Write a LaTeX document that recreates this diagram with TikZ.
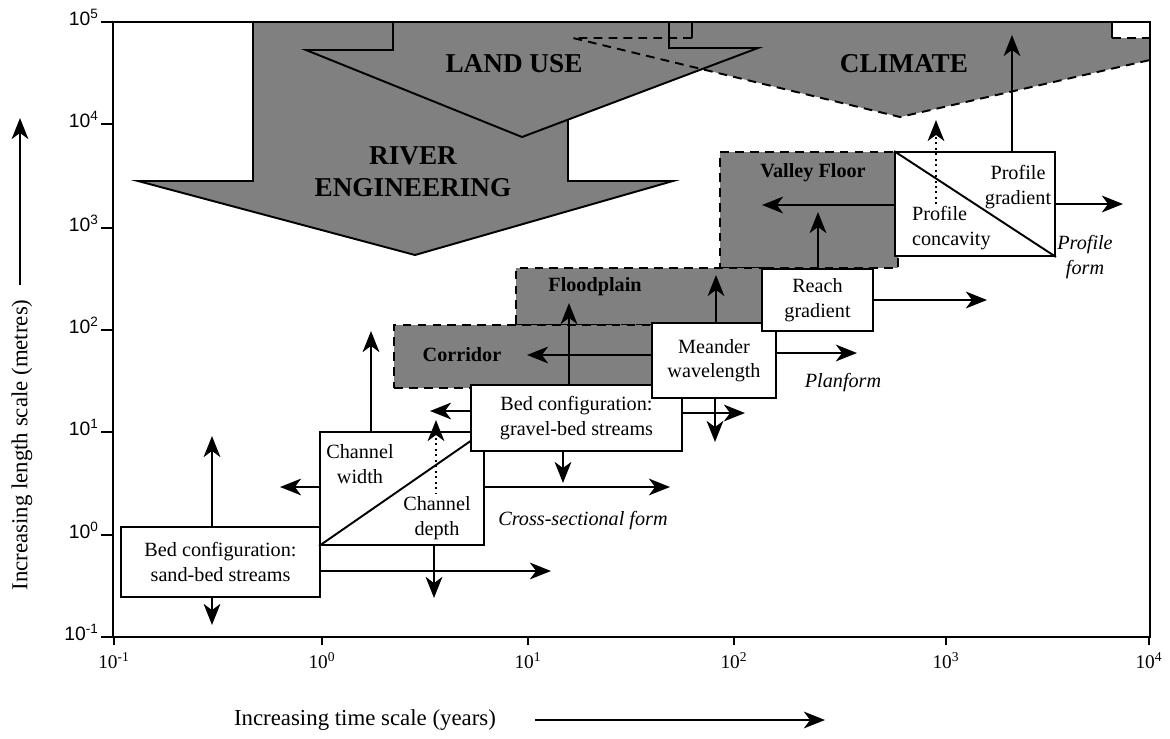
\documentclass[tikz,border=0pt]{standalone}
\usepackage{fontspec}
\setmainfont{Liberation Serif}
\newfontfamily\ticksans{Liberation Sans}
\usetikzlibrary{arrows.meta,positioning}

\definecolor{zonegray}{RGB}{128,128,128}

\tikzset{
	outline/.style={line width=1.1pt},
	dashline/.style={line width=1.1pt, dash pattern=on 5pt off 3.5pt},
	zone/.style={draw, fill=zonegray, dashline, inner sep=0pt},
	box/.style={draw, fill=white, line width=1.1pt, inner sep=0pt, align=center, font=\fontsize{11.5}{14}\selectfont},
	txt/.style={inner sep=1pt, align=center, font=\fontsize{11.5}{14}\selectfont},
	zonelabel/.style={inner sep=1pt, font=\fontsize{11.5}{14}\selectfont\bfseries},
	note/.style={inner sep=1pt, align=center, font=\fontsize{11.5}{14}\selectfont\itshape},
	biglabel/.style={inner sep=1pt, align=center, font=\fontsize{15.5}{18}\selectfont\bfseries},
	arr/.style={line width=1.1pt, -{Stealth[length=12pt,width=9.5pt,inset=3.5pt]}},
	dotarr/.style={arr, dotted},
	xtick/.style={inner sep=1pt, font=\fontsize{11}{13}\selectfont},
	ytick/.style={inner sep=1pt, anchor=east, font=\ticksans\fontsize{11}{13}\selectfont},
	axtitle/.style={inner sep=1pt, font=\fontsize{13}{15}\selectfont}
}

\begin{document}
\begin{tikzpicture}[x=0.02cm,y=-0.02cm]
	\useasboundingbox (0,0) rectangle (1170,738);

	% climate, river engineering and land use arrows
	\fill[zonegray] (573,38) -- (669,38) -- (669,22) -- (1112,22) -- (1112,38) -- (1150,38) -- (1150,60) -- (900,117) -- cycle;
	\draw[outline, fill=zonegray] (253,22) -- (253,181) -- (138,181) -- (415,255) -- (673,181) -- (568,181) -- (568,22);
	\draw[outline, fill=zonegray] (393,22) -- (393,50) -- (306,50) -- (522,137) -- (758,48) -- (669,48) -- (669,22);
	\draw[dashline] (692,38) -- (573,38) -- (900,117) -- (1150,60);
	\draw[dashline] (1112,38) -- (1150,38);
	\draw[outline] (692,22) -- (692,38) (1112,22) -- (1112,38);

	\node[biglabel] (landuse) at (514,64) {LAND USE};
	\node[biglabel] (climate) at (904,64) {CLIMATE};
	\node[biglabel] (rivereng) at (413,172) {RIVER\\ENGINEERING};

	% frame and ticks
	\draw[outline] (113,22) rectangle (1150,637);
	\foreach \x/\e in {114/-1,322/0,528/1,734/2,946/3,1149/4}{
		\draw[outline] (\x,637) -- (\x,645);
		\node[xtick] (xt\e) at (\x,661) {10\textsuperscript{\e}};
	}
	\foreach \y/\e in {22/5,124/4,228/3,330/2,432/1,535/0,637/-1}{
		\draw[outline] (101,\y) -- (113,\y);
		\node[ytick] (yt\e) at (101,\y-5) {10\textsuperscript{\e}};
	}

	\node[axtitle] (xtitle) at (365,720) {Increasing time scale (years)};
	\coordinate (xfrom) at (535,720);
	\coordinate (xto) at (825,720);
	\draw[arr] (xfrom) -- (xto);

	\node[axtitle, rotate=90] (ytitle) at (22,445) {Increasing length scale (metres)};
	\coordinate (yfrom) at (20,285);
	\coordinate (yto) at (20,118);
	\draw[arr] (yfrom) -- (yto);

	% dashed zones
	\node[zone, minimum width=3.56cm, minimum height=2.32cm] (valley) at (809,210) {};
	\node[zone, minimum width=5.08cm, minimum height=1.14cm] (flood) at (643,296.5) {};
	\node[zone, minimum width=5.22cm, minimum height=1.26cm] (corridor) at (524.5,356.5) {};
	\node[zonelabel] (valleytxt) at (813,173) {Valley Floor};
	\node[zonelabel] (floodtxt) at (595,287) {Floodplain};
	\node[zonelabel] (corridortxt) at (462,355) {Corridor};

	% boxes
	\node[box, minimum width=3.98cm, minimum height=1.4cm] (sand) at (220.5,562) {Bed configuration:\\sand-bed streams};
	\node[box, minimum width=3.28cm, minimum height=2.26cm] (chan) at (402,488.5) {};
	\draw[outline] (chan.south west) -- (chan.north east);
	\node[box, minimum width=4.22cm, minimum height=1.32cm] (gravel) at (576.5,418) {Bed configuration:\\gravel-bed streams};
	\node[box, minimum width=2.48cm, minimum height=1.5cm] (meander) at (714,360.5) {Meander\\wavelength};
	\node[box, minimum width=2.22cm, minimum height=1.24cm] (reach) at (817.5,300) {Reach\\gradient};
	\node[box, minimum width=3.2cm, minimum height=2.08cm] (profile) at (975,204) {};
	\draw[outline] (profile.north west) -- (profile.south east);

	\node[txt] (width) at (360,464) {Channel\\width};
	\node[txt] (depth) at (437,518) {Channel\\depth};
	\node[txt] (grad) at (1018,187) {Profile\\gradient};
	\node[txt, anchor=west, align=left] (conc) at (910,228) {Profile\\concavity};

	\node[note] (crossform) at (583,521) {Cross-sectional form};
	\node[note] (planform) at (843,383) {Planform};
	\node[note] (profform) at (1085,257) {Profile\\form};

	% arrow ends
	\coordinate (sandup) at (212,436);
	\coordinate (sanddown) at (212,625);
	\coordinate (sandright) at (551,571);
	\coordinate (chanleft) at (280,487);
	\coordinate (chanup) at (371,331);
	\coordinate (chanright) at (670,487);
	\coordinate (chandown) at (434,598);
	\coordinate (chandot) at (436,420);
	\coordinate (gravleft) at (430,411);
	\coordinate (gravup) at (569,303);
	\coordinate (gravdown) at (563,483);
	\coordinate (gravright) at (745,413);
	\coordinate (meanleft) at (527,355);
	\coordinate (meanup) at (716,275);
	\coordinate (meanright) at (857,353);
	\coordinate (meandown) at (715,442);
	\coordinate (reachup) at (818,212);
	\coordinate (reachright) at (987,300);
	\coordinate (profleft) at (762,205);
	\coordinate (profup) at (1012,35);
	\coordinate (profright) at (1123,204);
	\coordinate (profdot) at (936,120);

	\draw[arr] (sand.north -| sandup) -- (sandup);
	\draw[arr] (sand.south -| sanddown) -- (sanddown);
	\draw[arr] (sand.east |- sandright) -- (sandright);

	\draw[arr] (chan.west |- chanleft) -- (chanleft);
	\draw[arr] (chan.north -| chanup) -- (chanup);
	\draw[arr] (chan.east |- chanright) -- (chanright);
	\draw[arr] (chan.south -| chandown) -- (chandown);
	\draw[dotarr] (depth.north -| chandot) -- (chandot);

	\draw[arr] (gravel.west |- gravleft) -- (gravleft);
	\draw[arr] (gravel.north -| gravup) -- (gravup);
	\draw[arr] (gravel.south -| gravdown) -- (gravdown);
	\draw[arr] (gravel.east |- gravright) -- (gravright);

	\draw[arr] (meander.west |- meanleft) -- (meanleft);
	\draw[arr] (meander.north -| meanup) -- (meanup);
	\draw[arr] (meander.east |- meanright) -- (meanright);
	\draw[arr] (meander.south -| meandown) -- (meandown);

	\draw[arr] (reach.north -| reachup) -- (reachup);
	\draw[arr] (reach.east |- reachright) -- (reachright);

	\draw[arr] (profile.west |- profleft) -- (profleft);
	\draw[arr] (profile.north -| profup) -- (profup);
	\draw[arr] (profile.east |- profright) -- (profright);
	\draw[dotarr] (conc.north -| profdot) -- (profdot);
\end{tikzpicture}
\end{document}
